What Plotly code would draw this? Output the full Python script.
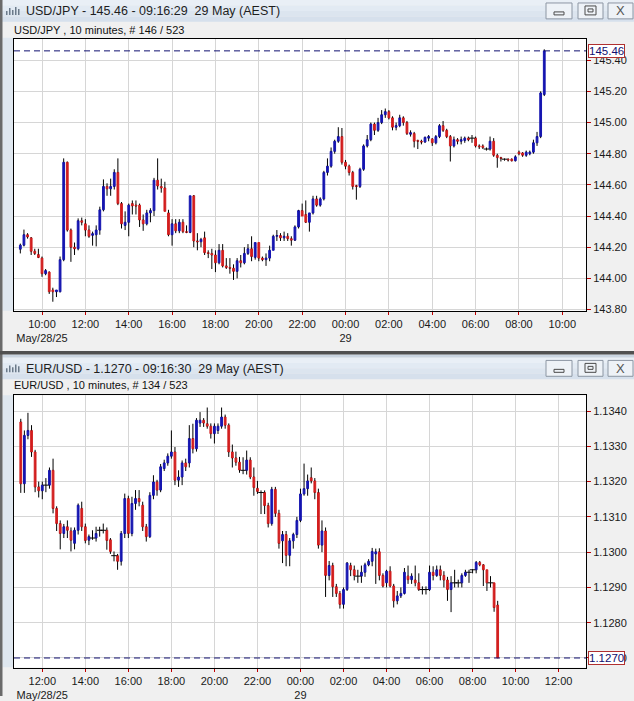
import plotly.graph_objects as go
import pandas as pd

W, H = 634, 701
BLUE = "#1515b0"
RED = "#d21e1e"
FONT = "Liberation Sans, Arial, sans-serif"

# ---------------- USD/JPY, 10-minute bars from 09:00 28 May ----------------
uj_start = "2025-05-28 09:00"
uj_open = [144.187, 144.213, 144.280, 144.260, 144.174, 144.153, 144.130, 144.030, 144.040, 143.925,
           143.914, 143.914, 144.120, 144.745, 144.310, 144.200, 144.190, 144.370, 144.350, 144.310,
           144.276, 144.280, 144.310, 144.440, 144.590, 144.575, 144.590, 144.680, 144.480, 144.340,
           144.360, 144.480, 144.470, 144.470, 144.375, 144.350, 144.420, 144.435, 144.630, 144.590,
           144.580, 144.420, 144.280, 144.350, 144.305, 144.360, 144.300, 144.295, 144.530, 144.240,
           144.235, 144.260, 144.165, 144.160, 144.150, 144.100, 144.180, 144.080, 144.070, 144.065,
           144.045, 144.113, 144.100, 144.160, 144.190, 144.135, 144.230, 144.130, 144.120, 144.130,
           144.180, 144.270, 144.275, 144.260, 144.270, 144.255, 144.245, 144.330, 144.435, 144.410,
           144.360, 144.420, 144.510, 144.470, 144.510, 144.680, 144.720, 144.815, 144.880, 144.910,
           144.745, 144.720, 144.680, 144.595, 144.590, 144.700, 144.850, 144.890, 144.990, 144.950,
           145.000, 145.050, 145.070, 145.030, 144.970, 144.980, 145.030, 145.000, 144.925, 144.930,
           144.885, 144.880, 144.875, 144.900, 144.895, 144.870, 144.910, 144.980, 144.950, 144.910,
           144.850, 144.890, 144.880, 144.885, 144.900, 144.900, 144.900, 144.850, 144.850, 144.830,
           144.830, 144.880, 144.790, 144.775, 144.765, 144.765, 144.765, 144.755, 144.810, 144.805,
           144.790, 144.800, 144.810, 144.870, 144.910, 145.180]
uj_high = [144.223, 144.313, 144.290, 144.265, 144.190, 144.190, 144.140, 144.060, 144.045, 143.940,
           143.925, 144.140, 144.770, 144.750, 144.320, 144.230, 144.385, 144.390, 144.380, 144.340,
           144.300, 144.340, 144.460, 144.635, 144.610, 144.640, 144.700, 144.770, 144.490, 144.430,
           144.480, 144.500, 144.500, 144.480, 144.410, 144.440, 144.450, 144.645, 144.770, 144.640,
           144.620, 144.440, 144.380, 144.380, 144.380, 144.380, 144.340, 144.530, 144.535, 144.290,
           144.260, 144.300, 144.180, 144.190, 144.180, 144.220, 144.220, 144.130, 144.130, 144.090,
           144.130, 144.150, 144.200, 144.220, 144.270, 144.230, 144.230, 144.140, 144.160, 144.210,
           144.280, 144.310, 144.290, 144.300, 144.290, 144.270, 144.340, 144.440, 144.480, 144.500,
           144.420, 144.530, 144.530, 144.520, 144.690, 144.770, 144.840, 144.890, 144.970, 144.965,
           144.760, 144.730, 144.690, 144.600, 144.710, 144.860, 144.920, 145.000, 145.000, 145.030,
           145.080, 145.090, 145.080, 145.040, 145.000, 145.050, 145.040, 145.010, 144.950, 144.940,
           144.890, 144.890, 144.910, 144.920, 144.900, 144.920, 144.990, 145.010, 144.960, 144.920,
           144.910, 144.900, 144.910, 144.910, 144.910, 144.920, 144.910, 144.860, 144.860, 144.840,
           144.910, 144.900, 144.800, 144.780, 144.770, 144.770, 144.770, 144.790, 144.820, 144.810,
           144.820, 144.820, 144.890, 144.940, 145.200, 145.470]
uj_low = [144.160, 144.205, 144.255, 144.150, 144.150, 144.130, 144.010, 144.020, 143.900, 143.850,
          143.880, 143.910, 144.110, 144.300, 144.106, 144.150, 144.180, 144.340, 144.270, 144.260,
          144.210, 144.205, 144.280, 144.430, 144.530, 144.530, 144.570, 144.470, 144.320, 144.310,
          144.270, 144.410, 144.410, 144.330, 144.305, 144.340, 144.360, 144.400, 144.570, 144.550,
          144.430, 144.270, 144.210, 144.290, 144.290, 144.290, 144.290, 144.290, 144.200, 144.180,
          144.200, 144.150, 144.130, 144.060, 144.040, 144.090, 144.070, 144.060, 144.030, 143.990,
          144.000, 144.070, 144.090, 144.150, 144.110, 144.120, 144.110, 144.110, 144.080, 144.110,
          144.180, 144.240, 144.240, 144.240, 144.240, 144.210, 144.240, 144.320, 144.400, 144.355,
          144.300, 144.410, 144.460, 144.460, 144.500, 144.660, 144.710, 144.800, 144.870, 144.730,
          144.700, 144.660, 144.570, 144.505, 144.580, 144.690, 144.840, 144.880, 144.920, 144.940,
          144.990, 145.030, 145.020, 144.950, 144.950, 144.970, 144.980, 144.920, 144.910, 144.840,
          144.830, 144.860, 144.870, 144.880, 144.850, 144.860, 144.900, 144.940, 144.900, 144.750,
          144.840, 144.860, 144.860, 144.870, 144.880, 144.870, 144.840, 144.830, 144.830, 144.820,
          144.820, 144.780, 144.710, 144.750, 144.755, 144.750, 144.750, 144.750, 144.790, 144.780,
          144.780, 144.790, 144.800, 144.850, 144.900, 145.170]
uj_close = [144.213, 144.280, 144.266, 144.174, 144.160, 144.134, 144.030, 144.050, 143.914, 143.914,
            143.925, 144.120, 144.745, 144.310, 144.200, 144.190, 144.370, 144.360, 144.310, 144.270,
            144.287, 144.310, 144.440, 144.590, 144.575, 144.590, 144.680, 144.480, 144.350, 144.360,
            144.470, 144.465, 144.465, 144.375, 144.350, 144.420, 144.435, 144.630, 144.593, 144.580,
            144.430, 144.280, 144.350, 144.305, 144.360, 144.300, 144.295, 144.530, 144.240, 144.235,
            144.250, 144.165, 144.160, 144.150, 144.100, 144.180, 144.080, 144.070, 144.065, 144.045,
            144.113, 144.100, 144.160, 144.190, 144.140, 144.230, 144.130, 144.120, 144.130, 144.180,
            144.270, 144.275, 144.260, 144.270, 144.255, 144.245, 144.330, 144.435, 144.400, 144.360,
            144.420, 144.510, 144.470, 144.510, 144.680, 144.720, 144.815, 144.880, 144.910, 144.745,
            144.720, 144.680, 144.590, 144.590, 144.700, 144.850, 144.890, 144.990, 144.950, 145.000,
            145.050, 145.070, 145.030, 144.970, 144.980, 145.030, 145.000, 144.930, 144.935, 144.880,
            144.880, 144.875, 144.905, 144.910, 144.870, 144.910, 144.980, 144.950, 144.910, 144.850,
            144.890, 144.880, 144.890, 144.900, 144.890, 144.900, 144.850, 144.845, 144.840, 144.830,
            144.880, 144.790, 144.775, 144.770, 144.765, 144.760, 144.755, 144.780, 144.800, 144.790,
            144.810, 144.810, 144.870, 144.910, 145.190, 145.460]
uj_last = 145.46
uj_xticks = ["2025-05-28 10:00", "2025-05-28 12:00", "2025-05-28 14:00", "2025-05-28 16:00",
             "2025-05-28 18:00", "2025-05-28 20:00", "2025-05-28 22:00", "2025-05-29 00:00",
             "2025-05-29 02:00", "2025-05-29 04:00", "2025-05-29 06:00", "2025-05-29 08:00",
             "2025-05-29 10:00"]
uj_xtext = ["10:00<br>May/28/25", "12:00", "14:00", "16:00", "18:00", "20:00", "22:00",
            "00:00<br>29", "02:00", "04:00", "06:00", "08:00", "10:00"]
uj_yticks = [143.80, 144.00, 144.20, 144.40, 144.60, 144.80, 145.00, 145.20, 145.40]

# ---------------- EUR/USD, 10-minute bars from 11:00 28 May ----------------
eu_start = "2025-05-28 11:00"
eu_open = [1.13369, 1.13194, 1.13331, 1.13345, 1.13284, 1.13185, 1.13174, 1.13190, 1.13190, 1.13232,
           1.13124, 1.13081, 1.13053, 1.13072, 1.13060, 1.13025, 1.13062, 1.13124, 1.13072, 1.13034,
           1.13040, 1.13040, 1.13062, 1.13062, 1.13062, 1.13035, 1.12990, 1.12990, 1.12974, 1.13053,
           1.13152, 1.13053, 1.13138, 1.13152, 1.13133, 1.13072, 1.13044, 1.13161, 1.13199, 1.13176,
           1.13237, 1.13253, 1.13272, 1.13284, 1.13204, 1.13213, 1.13253, 1.13253, 1.13322, 1.13293,
           1.13366, 1.13374, 1.13364, 1.13357, 1.13336, 1.13345, 1.13357, 1.13383, 1.13360, 1.13284,
           1.13267, 1.13255, 1.13232, 1.13232, 1.13261, 1.13213, 1.13181, 1.13169, 1.13169, 1.13132,
           1.13081, 1.13178, 1.13110, 1.13032, 1.13050, 1.12991, 1.13032, 1.13050, 1.13090, 1.13165,
           1.13180, 1.13211, 1.13202, 1.13169, 1.13020, 1.13060, 1.12934, 1.12962, 1.12902, 1.12883,
           1.12852, 1.12894, 1.12962, 1.12950, 1.12932, 1.12932, 1.12943, 1.12964, 1.12974, 1.12995,
           1.13001, 1.12934, 1.12913, 1.12946, 1.12904, 1.12862, 1.12876, 1.12883, 1.12932, 1.12922,
           1.12921, 1.12913, 1.12894, 1.12894, 1.12894, 1.12943, 1.12934, 1.12950, 1.12934, 1.12921,
           1.12894, 1.12913, 1.12913, 1.12913, 1.12934, 1.12943, 1.12950, 1.12950, 1.12971, 1.12964,
           1.12950, 1.12913, 1.12913, 1.12850]
eu_high = [1.13378, 1.13345, 1.13395, 1.13360, 1.13290, 1.13200, 1.13200, 1.13210, 1.13240, 1.13265,
           1.13130, 1.13090, 1.13080, 1.13090, 1.13070, 1.13070, 1.13138, 1.13143, 1.13081, 1.13050,
           1.13062, 1.13072, 1.13072, 1.13081, 1.13070, 1.13040, 1.13002, 1.12995, 1.13060, 1.13166,
           1.13160, 1.13157, 1.13176, 1.13176, 1.13143, 1.13080, 1.13170, 1.13218, 1.13205, 1.13250,
           1.13262, 1.13280, 1.13345, 1.13298, 1.13232, 1.13260, 1.13265, 1.13360, 1.13364, 1.13380,
           1.13397, 1.13380, 1.13410, 1.13365, 1.13365, 1.13365, 1.13410, 1.13390, 1.13365, 1.13305,
           1.13285, 1.13270, 1.13269, 1.13288, 1.13269, 1.13240, 1.13202, 1.13175, 1.13175, 1.13140,
           1.13185, 1.13185, 1.13120, 1.13060, 1.13060, 1.13040, 1.13055, 1.13100, 1.13180, 1.13251,
           1.13220, 1.13240, 1.13210, 1.13180, 1.13090, 1.13070, 1.12975, 1.12970, 1.12910, 1.12890,
           1.12900, 1.12972, 1.12970, 1.12962, 1.12950, 1.12962, 1.12970, 1.12980, 1.13012, 1.13010,
           1.13011, 1.12940, 1.12950, 1.12960, 1.12910, 1.12890, 1.12900, 1.12955, 1.12962, 1.12940,
           1.12962, 1.12940, 1.12903, 1.12903, 1.12962, 1.12960, 1.12962, 1.12962, 1.12946, 1.12930,
           1.12932, 1.12950, 1.12922, 1.12940, 1.12950, 1.12950, 1.12952, 1.12975, 1.12975, 1.12966,
           1.12950, 1.12932, 1.12913, 1.12862]
eu_low = [1.13168, 1.13168, 1.13320, 1.13270, 1.13170, 1.13155, 1.13150, 1.13170, 1.13180, 1.13110,
          1.13060, 1.13008, 1.13040, 1.13040, 1.13002, 1.13008, 1.13050, 1.13060, 1.13025, 1.13020,
          1.13035, 1.13030, 1.13044, 1.13053, 1.13007, 1.12995, 1.12974, 1.12950, 1.12962, 1.13040,
          1.13040, 1.13045, 1.13120, 1.13130, 1.13060, 1.13030, 1.13040, 1.13150, 1.13160, 1.13170,
          1.13230, 1.13245, 1.13265, 1.13190, 1.13185, 1.13190, 1.13230, 1.13240, 1.13280, 1.13285,
          1.13355, 1.13355, 1.13350, 1.13322, 1.13308, 1.13335, 1.13350, 1.13350, 1.13270, 1.13240,
          1.13245, 1.13225, 1.13221, 1.13220, 1.13207, 1.13160, 1.13165, 1.13108, 1.13108, 1.13070,
          1.13075, 1.13100, 1.13010, 1.12969, 1.12960, 1.12960, 1.13010, 1.13040, 1.13085, 1.13160,
          1.13160, 1.13195, 1.13150, 1.13010, 1.13000, 1.12873, 1.12920, 1.12873, 1.12873, 1.12840,
          1.12840, 1.12890, 1.12932, 1.12920, 1.12913, 1.12913, 1.12930, 1.12960, 1.12960, 1.12910,
          1.12920, 1.12900, 1.12900, 1.12900, 1.12843, 1.12852, 1.12870, 1.12880, 1.12910, 1.12910,
          1.12903, 1.12890, 1.12880, 1.12880, 1.12890, 1.12920, 1.12930, 1.12920, 1.12900, 1.12862,
          1.12830, 1.12900, 1.12900, 1.12900, 1.12930, 1.12913, 1.12940, 1.12940, 1.12960, 1.12904,
          1.12890, 1.12900, 1.12831, 1.12700]
eu_close = [1.13194, 1.13331, 1.13345, 1.13284, 1.13185, 1.13174, 1.13190, 1.13190, 1.13232, 1.13124,
            1.13081, 1.13053, 1.13072, 1.13062, 1.13034, 1.13062, 1.13133, 1.13072, 1.13033, 1.13044,
            1.13040, 1.13053, 1.13062, 1.13062, 1.13033, 1.13002, 1.12990, 1.12974, 1.13053, 1.13152,
            1.13053, 1.13138, 1.13152, 1.13143, 1.13072, 1.13044, 1.13161, 1.13199, 1.13176, 1.13242,
            1.13253, 1.13272, 1.13284, 1.13204, 1.13213, 1.13253, 1.13242, 1.13322, 1.13293, 1.13374,
            1.13374, 1.13366, 1.13357, 1.13336, 1.13357, 1.13357, 1.13383, 1.13360, 1.13284, 1.13267,
            1.13255, 1.13233, 1.13232, 1.13261, 1.13213, 1.13183, 1.13172, 1.13169, 1.13132, 1.13081,
            1.13178, 1.13110, 1.13025, 1.13050, 1.12991, 1.13032, 1.13050, 1.13090, 1.13165, 1.13180,
            1.13202, 1.13202, 1.13169, 1.13020, 1.13060, 1.12934, 1.12962, 1.12902, 1.12883, 1.12852,
            1.12894, 1.12969, 1.12950, 1.12934, 1.12932, 1.12943, 1.12964, 1.12974, 1.13002, 1.13001,
            1.12934, 1.12904, 1.12946, 1.12904, 1.12862, 1.12876, 1.12883, 1.12943, 1.12922, 1.12932,
            1.12913, 1.12894, 1.12894, 1.12894, 1.12943, 1.12934, 1.12950, 1.12934, 1.12921, 1.12894,
            1.12913, 1.12913, 1.12913, 1.12934, 1.12943, 1.12943, 1.12950, 1.12971, 1.12964, 1.12950,
            1.12913, 1.12913, 1.12843, 1.12700]
eu_last = 1.1270
eu_xticks = ["2025-05-28 12:00", "2025-05-28 14:00", "2025-05-28 16:00", "2025-05-28 18:00",
             "2025-05-28 20:00", "2025-05-28 22:00", "2025-05-29 00:00", "2025-05-29 02:00",
             "2025-05-29 04:00", "2025-05-29 06:00", "2025-05-29 08:00", "2025-05-29 10:00",
             "2025-05-29 12:00"]
eu_xtext = ["12:00<br>May/28/25", "14:00", "16:00", "18:00", "20:00", "22:00", "00:00<br>29",
            "02:00", "04:00", "06:00", "08:00", "10:00", "12:00"]
eu_yticks = [1.1270, 1.1280, 1.1290, 1.1300, 1.1310, 1.1320, 1.1330, 1.1340]

uj_title = "USD/JPY - 145.46 - 09:16:29  29 May (AEST)"
uj_sub = "USD/JPY , 10 minutes, # 146 / 523"
eu_title = "EUR/USD - 1.1270 - 09:16:30  29 May (AEST)"
eu_sub = "EUR/USD , 10 minutes, # 134 / 523"

uj_time = list(pd.date_range(uj_start, periods=len(uj_close), freq="10min"))
eu_time = list(pd.date_range(eu_start, periods=len(eu_close), freq="10min"))


def px(x):
    return x / W


def py(y):
    return 1 - y / H


fig = go.Figure()


def add_candles(t, o, h, l, c, xa, ya):
    wx, wy = [], []
    for i in range(len(c)):
        top, bot = max(o[i], c[i]), min(o[i], c[i])
        if h[i] > top:
            wx += [t[i], t[i], None]
            wy += [top, h[i], None]
        if l[i] < bot:
            wx += [t[i], t[i], None]
            wy += [l[i], bot, None]
    fig.add_trace(go.Scatter(x=wx, y=wy, mode="lines", line=dict(color="black", width=1),
                             xaxis=xa, yaxis=ya, hoverinfo="skip"))
    idx = [i for i in range(len(c)) if o[i] != c[i]]
    fig.add_trace(go.Candlestick(
        x=[t[i] for i in idx], open=[o[i] for i in idx], close=[c[i] for i in idx],
        high=[max(o[i], c[i]) for i in idx], low=[min(o[i], c[i]) for i in idx],
        increasing=dict(line=dict(color=BLUE, width=1), fillcolor=BLUE),
        decreasing=dict(line=dict(color=RED, width=1), fillcolor=RED),
        whiskerwidth=0, xaxis=xa, yaxis=ya, hoverinfo="skip"))
    dj = [i for i in range(len(c)) if o[i] == c[i]]
    fig.add_trace(go.Scatter(x=[t[i] for i in dj], y=[c[i] for i in dj], mode="markers",
                             marker=dict(symbol="line-ew", size=4, line=dict(color="black", width=1)),
                             xaxis=xa, yaxis=ya, hoverinfo="skip"))


add_candles(uj_time, uj_open, uj_high, uj_low, uj_close, "x", "y")
add_candles(eu_time, eu_open, eu_high, eu_low, eu_close, "x2", "y2")

axis_font = dict(family=FONT, size=11, color="#1a1a1a")
common_x = dict(type="date", showgrid=True, gridcolor="#d6d6d6", gridwidth=1, ticks="outside",
                ticklen=3, tickcolor="#c00000", showline=True, mirror=True, linecolor="black",
                linewidth=1, tickfont=axis_font, rangeslider=dict(visible=False), zeroline=False,
                fixedrange=True)
common_y = dict(side="right", showgrid=True, gridcolor="#d6d6d6", gridwidth=1, ticks="outside",
                ticklen=4, tickcolor="#c00000", showline=True, mirror=True, linecolor="black",
                linewidth=1, tickfont=axis_font, zeroline=False, fixedrange=True)

fig.update_layout(
    width=W, height=H, margin=dict(l=0, r=0, t=0, b=0),
    paper_bgcolor="#f0f0f0", plot_bgcolor="white", showlegend=False,
    hovermode=False, boxgap=0.3,
    xaxis=dict(common_x, domain=[px(14), px(586)], anchor="y",
               range=["2025-05-28 08:42:30", "2025-05-29 11:05:30"],
               tickvals=uj_xticks, ticktext=uj_xtext),
    yaxis=dict(common_y, domain=[py(313), py(39)], anchor="x", range=[143.792, 145.538],
               tickvals=uj_yticks, ticktext=[f"{v:.2f}" for v in uj_yticks]),
    xaxis2=dict(common_x, domain=[px(14), px(586)], anchor="y2",
                range=["2025-05-28 10:41:06", "2025-05-29 13:16:18"],
                tickvals=eu_xticks, ticktext=eu_xtext),
    yaxis2=dict(common_y, domain=[py(672.3), py(398.3)], anchor="x2", range=[1.12673, 1.134442],
                tickvals=eu_yticks, ticktext=[f"{v:.4f}" for v in eu_yticks]),
)

shapes = []
annos = []


def rect(x0, y0, x1, y1, fill, line=None, lw=0, layer="below"):
    shapes.append(dict(type="rect", xref="paper", yref="paper", x0=px(x0), x1=px(x1),
                       y0=py(y1), y1=py(y0), fillcolor=fill,
                       line=dict(color=line or fill, width=lw), layer=layer))


def window_chrome(top, title, sub, sub_y):
    # title bar gradient
    bands = ["#e9eff6", "#e2eaf3", "#dce5ef", "#d6e0ec"]
    for k, col in enumerate(bands):
        rect(2, top + k * 5.5, 634, top + (k + 1) * 5.5, col)
    # small icon
    for k, hgt in enumerate([4, 7, 5, 8, 6]):
        rect(6 + k * 3, top + 15 - hgt, 7.5 + k * 3, top + 15, "#6b7a8a", layer="above")
    annos.append(dict(x=px(24), y=py(top + 11.5), xref="paper", yref="paper", text=title,
                      showarrow=False, xanchor="left", yanchor="middle",
                      font=dict(family=FONT, size=12.5, color="#1e1e1e")))
    annos.append(dict(x=px(12), y=py(sub_y), xref="paper", yref="paper", text=sub,
                      showarrow=False, xanchor="left", yanchor="middle",
                      font=dict(family=FONT, size=11, color="#111111")))
    # buttons
    for (bx0, bx1) in [(546, 572), (578, 603), (608, 633)]:
        rect(bx0, top + 3, bx1, top + 19, "#eef2f7", line="#8c96a3", lw=1, layer="above")
    rect(554, top + 12, 564, top + 15, "rgba(0,0,0,0)", line="#4a4a4a", lw=1, layer="above")
    rect(585, top + 6, 596, top + 15, "rgba(0,0,0,0)", line="#4a4a4a", lw=1, layer="above")
    rect(588, top + 9, 593, top + 12, "rgba(0,0,0,0)", line="#4a4a4a", lw=1, layer="above")
    annos.append(dict(x=px(620.5), y=py(top + 11), xref="paper", yref="paper", text="X",
                      showarrow=False, xanchor="center", yanchor="middle",
                      font=dict(family=FONT, size=13, color="#555555")))


window_chrome(0, uj_title, uj_sub, 30)
window_chrome(360, eu_title, eu_sub, 388)

# left frame strips
rect(0, 0, 2.5, 701, "#6a6a6a", layer="above")
rect(2.5, 38, 13, 313, "#dfe7ef")
rect(2.5, 398, 13, 672, "#dfe7ef")
# separator between the two windows
rect(0, 353.5, 634, 357, "#505050", layer="above")
rect(2.5, 357, 634, 360, "#c9d4e0")

# last-price dashed lines and value boxes
shapes.append(dict(type="line", xref="x domain", yref="y", x0=0, x1=1, y0=uj_last, y1=uj_last,
                   line=dict(color="#101070", width=1, dash="6px,4px"), layer="above"))
shapes.append(dict(type="line", xref="x2 domain", yref="y2", x0=0, x1=1, y0=eu_last, y1=eu_last,
                   line=dict(color="#101070", width=1, dash="6px,4px"), layer="above"))
annos.append(dict(x=px(588), y=uj_last, xref="paper", yref="y", text=f"{uj_last:.2f}",
                  showarrow=False, xanchor="left", yanchor="middle", bgcolor="white",
                  bordercolor="#b03030", borderwidth=1, borderpad=0,
                  font=dict(family=FONT, size=11.5, color="#101070")))
annos.append(dict(x=px(588), y=eu_last, xref="paper", yref="y2", text=f"{eu_last:.4f}",
                  showarrow=False, xanchor="left", yanchor="middle", bgcolor="white",
                  bordercolor="#b03030", borderwidth=1, borderpad=0,
                  font=dict(family=FONT, size=11.5, color="#101070")))

fig.update_layout(shapes=shapes, annotations=annos)
fig.write_html("out.html", config={"displayModeBar": False},
               post_script="document.body.style.margin='0px';")
